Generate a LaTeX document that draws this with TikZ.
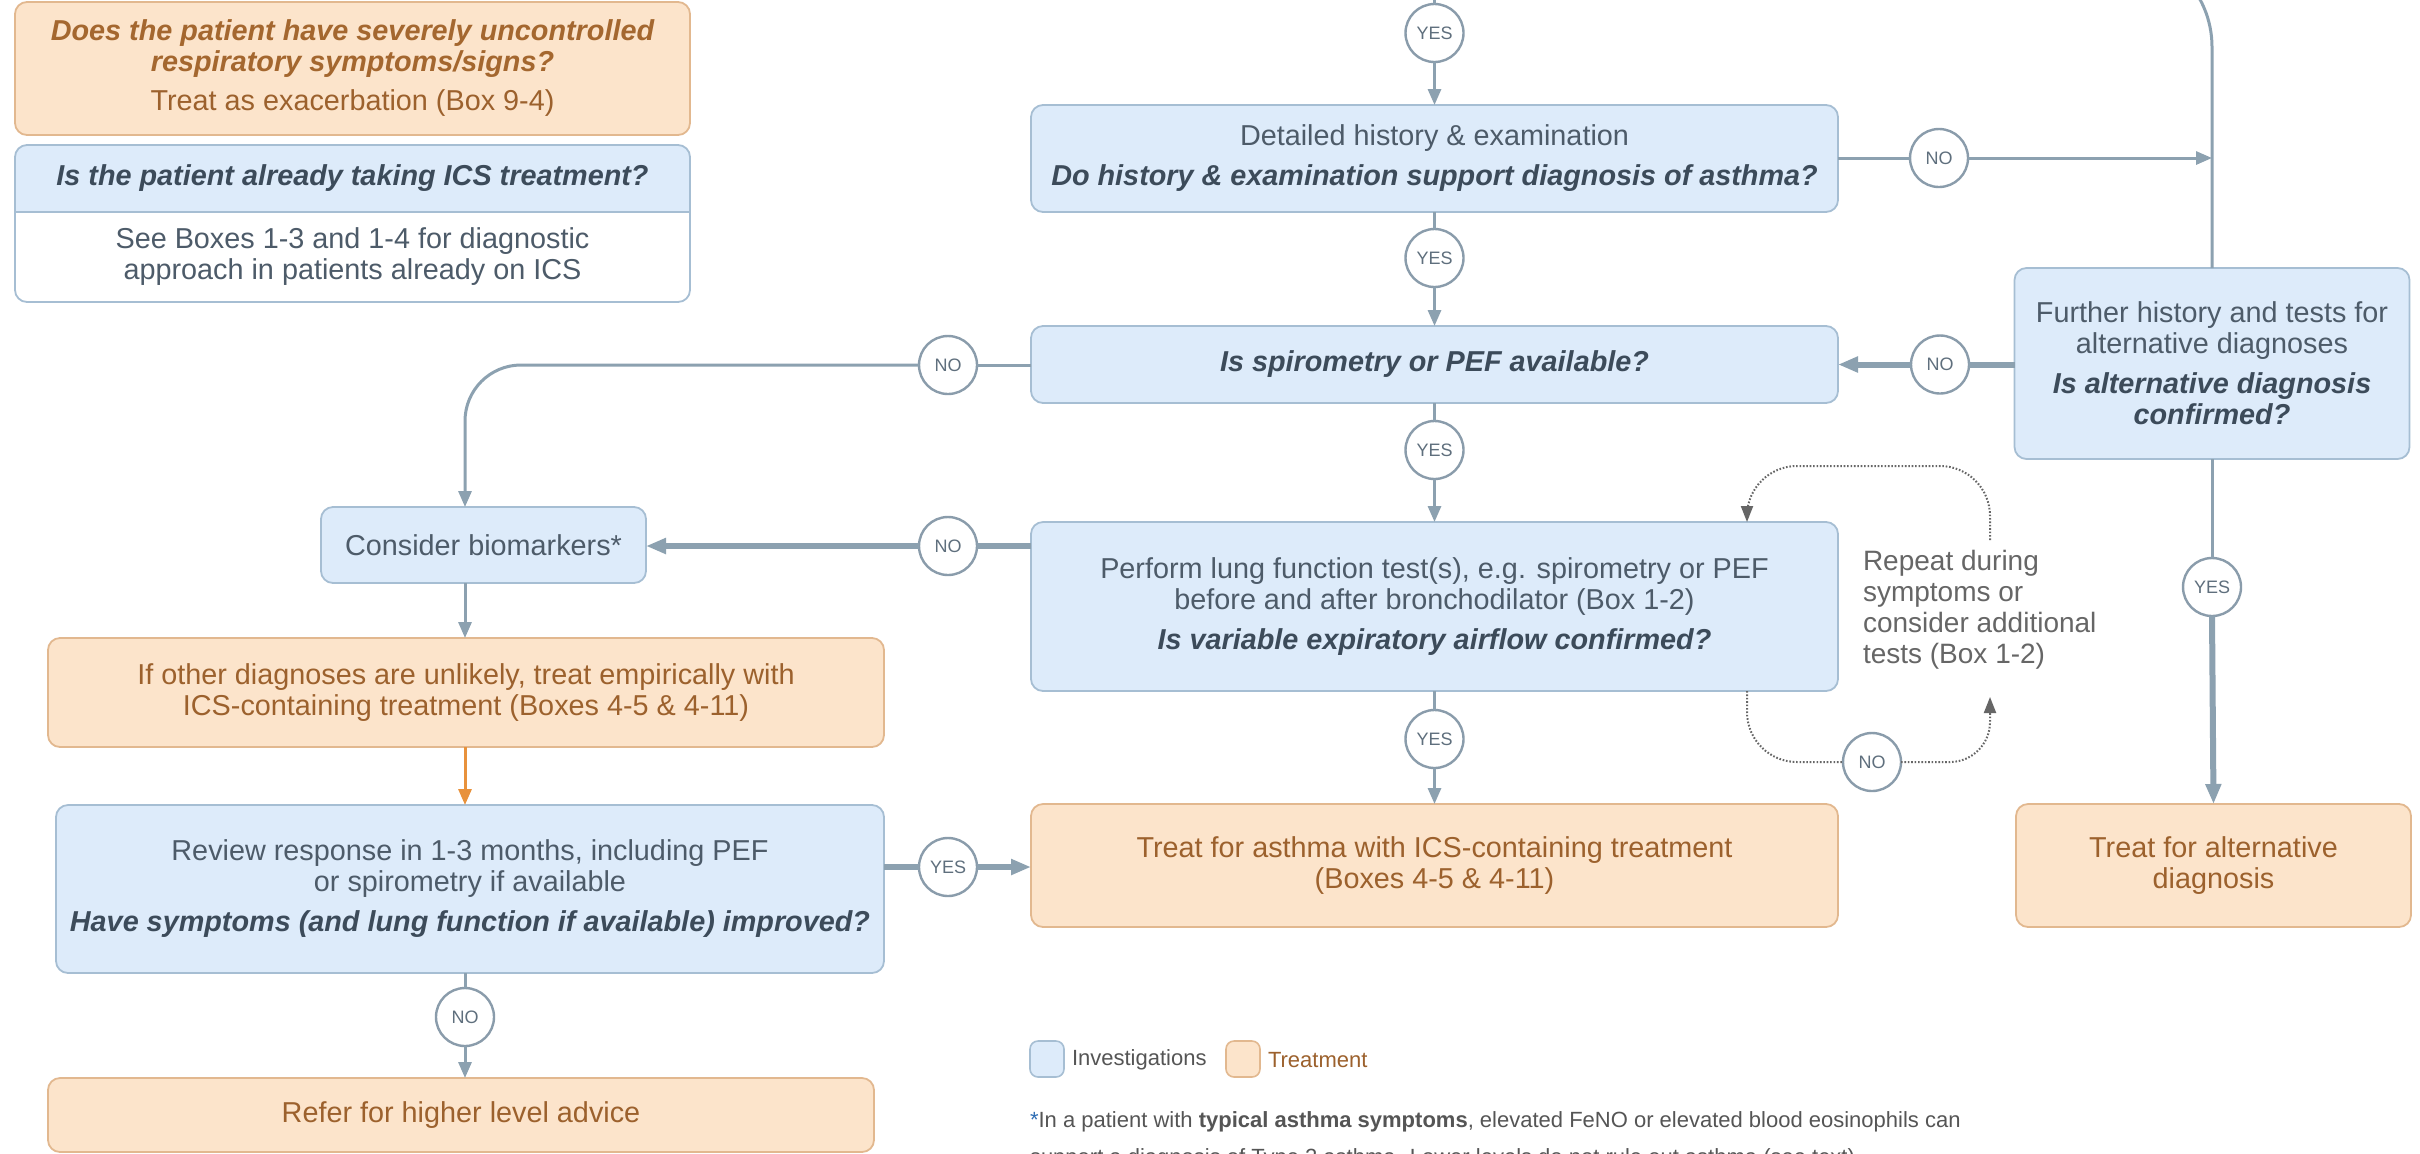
\documentclass[tikz,border=0pt]{standalone}
\usepackage{fontspec}
\setmainfont{Liberation Sans}
\usetikzlibrary{arrows.meta,calc}
\definecolor{invfill}{HTML}{DDEBFA}
\definecolor{invline}{HTML}{A6BED3}
\definecolor{trtfill}{HTML}{FCE4CB}
\definecolor{trtline}{HTML}{E2B88F}
\definecolor{invtext}{HTML}{4D5B69}
\definecolor{invq}{HTML}{3C4B5A}
\definecolor{trttext}{HTML}{9C612D}
\definecolor{trtq}{HTML}{A4672F}
\definecolor{conn}{HTML}{8CA1B0}
\definecolor{ansline}{HTML}{8A9CAB}
\definecolor{anstext}{HTML}{5F6F7D}
\definecolor{loopc}{HTML}{666666}
\definecolor{orarrow}{HTML}{E8923C}
\definecolor{notegray}{HTML}{555555}
\definecolor{starblue}{HTML}{2E6DB4}
\newcommand\qinv[1]{{\color{invq}\bfseries\itshape #1}}
\newcommand\qtrt[1]{{\color{trtq}\bfseries\itshape #1}}
\newcommand\boxfont{\fontsize{14.4}{15.5}\selectfont}
\begin{document}
\begin{tikzpicture}[x=0.5pt,y=-0.5pt,
  every node/.style={inner sep=0pt,outer sep=0pt},
  sz/.style 2 args={minimum width={#1*0.5pt},minimum height={#2*0.5pt}},
  boxbase/.style={rounded corners=6pt,line width=0.9pt,align=center,font=\boxfont},
  inv/.style={boxbase,draw=invline,fill=invfill,text=invtext},
  trt/.style={boxbase,draw=trtline,fill=trtfill,text=trttext},
  ans/.style={circle,draw=ansline,fill=white,line width=1.2pt,minimum size=29pt,font=\fontsize{9}{10}\selectfont,text=anstext},
  lnthin/.style={draw=conn,line width=1.5pt},
  lnthick/.style={draw=conn,line width=3pt},
  headthin/.style={-{Triangle[length=8pt,width=6.5pt]}},
  headthick/.style={-{Triangle[length=10pt,width=7.5pt]}},
  loopline/.style={draw=loopc,line width=1pt,dash pattern=on 0.8pt off 0.9pt},
  headloop/.style={-{Triangle[length=8pt,width=6pt]}},
]
\useasboundingbox (0,0) rectangle (2420,1153);
\fill[white] (0,0) rectangle (2420,1153);
\clip (0,0) rectangle (2420,1153);

% ---------- top-left notes ----------
\node[trt,sz={675}{133}] (exac) at (352.5,68.5)
  {\qtrt{Does the patient have severely uncontrolled}\\
   \qtrt{respiratory symptoms/signs?}\\[4pt]
   Treat as exacerbation (Box 9-4)};

\node[sz={675}{157},fill=white] (ics) at (352.5,223.5) {};
\coordinate (icsdiv) at (0,212);
\coordinate (icsmid) at (0,190);
\fill[invfill,rounded corners=6pt] (ics.north west) rectangle (ics.east |- icsdiv);
\fill[invfill] (ics.west |- icsmid) rectangle (ics.east |- icsdiv);
\draw[invline,line width=0.9pt] (ics.west |- icsdiv) -- (ics.east |- icsdiv);
\draw[invline,line width=0.9pt,rounded corners=6pt] (ics.north west) rectangle (ics.south east);
\node[font=\boxfont] (icsq) at (352.5,178)
  {\qinv{Is the patient already taking ICS treatment?}};
\node[align=center,font=\boxfont,text=invtext] (icsb) at (352.5,257)
  {See Boxes 1-3 and 1-4 for diagnostic\\approach in patients already on ICS};

% ---------- central column ----------
\node[inv,sz={807}{107}] (hist) at (1434.5,158.5)
  {Detailed history \& examination\\[4.5pt]
   \qinv{Do history \& examination support diagnosis of asthma?}};
\node[inv,sz={807}{77}] (spiro) at (1434.5,364.5)
  {\qinv{Is spirometry or PEF available?}};
\node[inv,sz={807}{169}] (lung) at (1434.5,606.5)
  {Perform lung function test(s), e.g. spirometry or PEF\\
   before and after bronchodilator (Box 1-2)\\[4.5pt]
   \qinv{Is variable expiratory airflow confirmed?}};
\node[trt,sz={807}{123}] (treatA) at (1434.5,865.5)
  {Treat for asthma with ICS-containing treatment\\(Boxes 4-5 \& 4-11)};

% ---------- right column ----------
\node[inv,sz={395}{191}] (further) at (2212,363.5)
  {Further history and tests for\\alternative diagnoses\\[4.5pt]
   \qinv{Is alternative diagnosis}\\\qinv{confirmed?}};
\node[trt,sz={395}{123}] (treatAlt) at (2213.5,865.5)
  {Treat for alternative\\diagnosis};

% ---------- left column ----------
\node[inv,sz={325}{76}] (bio) at (483.5,545) {Consider biomarkers*};
\node[trt,sz={836}{109}] (empir) at (466,692.5)
  {If other diagnoses are unlikely, treat empirically with\\
   ICS-containing treatment (Boxes 4-5 \& 4-11)};
\node[inv,sz={828}{168}] (review) at (470,889)
  {Review response in 1-3 months, including PEF\\
   or spirometry if available\\[4.5pt]
   \qinv{Have symptoms (and lung function if available) improved?}};
\node[trt,sz={826}{74}] (refer) at (461,1115) {Refer for higher level advice};

% ---------- answer circles ----------
\node[ans] (y1) at (1434.5,33) {YES};
\node[ans] (y2) at (1434.5,258) {YES};
\node[ans] (y3) at (1434.5,450) {YES};
\node[ans] (y4) at (1434.5,739) {YES};
\node[ans] (n1) at (1939,158) {NO};
\node[ans] (n2) at (1940,364.5) {NO};
\node[ans] (n3) at (948,365) {NO};
\node[ans] (n4) at (948,546) {NO};
\node[ans] (n5) at (1872,762) {NO};
\node[ans] (y5) at (948,867) {YES};
\node[ans] (n6) at (465,1017) {NO};
\node[ans] (y6) at (2212,587) {YES};

% ---------- connectors ----------
\coordinate (topin) at (1434.5,-20);
\draw[lnthin] (topin) -- (y1.north);
\draw[lnthin,headthin] (y1.south) -- (hist.north);
\draw[lnthin] (hist.south) -- (y2.north);
\draw[lnthin,headthin] (y2.south) -- (spiro.north);
\draw[lnthin] (spiro.south) -- (y3.north);
\draw[lnthin,headthin] (y3.south) -- (lung.north);
\draw[lnthin] (lung.south) -- (y4.north);
\draw[lnthin,headthin] (y4.south) -- (treatA.north);

% return line on the far right
\coordinate (vtop) at (2000,-53);
\draw[lnthin,rounded corners=50pt] (vtop) -- (vtop -| further.north) -- (further.north);
\draw[lnthin] (hist.east |- n1) -- (n1.west);
\draw[lnthin,headthin] (n1.east) -- (n1 -| further.north);

\draw[lnthick] (further.west |- n2) -- (n2.east);
\draw[lnthick,headthick] (n2.west) -- (spiro.east |- n2);
\draw[lnthin] (further.south) -- (y6.north);
\draw[lnthick,headthick] (y6.south) -- (treatAlt.north);

% left branches
\coordinate (lcorner) at (465,365);
\draw[lnthin] (spiro.west |- n3) -- (n3.east);
\draw[lnthin,headthin,rounded corners=28pt] (n3.west) -- (lcorner) -- (bio.north -| lcorner);
\draw[lnthick] (lung.west |- n4) -- (n4.east);
\draw[lnthick,headthick] (n4.west) -- (bio.east |- n4);
\draw[lnthin,headthin] (bio.south -| lcorner) -- (empir.north -| lcorner);
\draw[draw=orarrow,line width=1.5pt,-{Triangle[length=8pt,width=6.5pt]}]
  (empir.south -| lcorner) -- (review.north -| lcorner);
\draw[lnthick] (review.east |- y5) -- (y5.west);
\draw[lnthick,headthick] (y5.east) -- (treatA.west |- y5);
\draw[lnthin] (review.south -| n6) -- (n6.north);
\draw[lnthin,headthin] (n6.south) -- (refer.north -| n6);

% repeat loop (dotted)
\coordinate (lpx) at (1747,466);
\coordinate (rpx) at (1990,466);
\coordinate (rptop) at (1990,540);
\coordinate (lbot) at (1747,762);
\coordinate (rbot) at (1990,762);
\coordinate (rptip) at (1990,697);
\draw[loopline,headloop,rounded corners=25pt] (rptop) -- (rpx) -- (lpx) -- (lung.north -| lpx);
\draw[loopline,rounded corners=25pt] (lung.south -| lpx) -- (lbot) -- (n5.west);
\draw[loopline,headloop,rounded corners=20pt] (n5.east) -- (rbot) -- (rptip);
\node[anchor=north west,align=left,font=\fontsize{14}{15.5}\selectfont,text=loopc] (repeat) at (1863,550)
  {Repeat during\\symptoms or\\consider additional\\tests (Box 1-2)};

% ---------- legend and footnote ----------
\node[draw=invline,fill=invfill,line width=0.8pt,rounded corners=4pt,sz={34}{36}] (lginv) at (1047,1059) {};
\node[anchor=west,font=\fontsize{11}{13}\selectfont,text=notegray] (lginvt) at (1072,1060) {Investigations};
\node[draw=trtline,fill=trtfill,line width=0.8pt,rounded corners=4pt,sz={34}{36}] (lgtrt) at (1243,1059) {};
\node[anchor=west,font=\fontsize{11}{13}\selectfont,text=trttext] (lgtrtt) at (1268,1060) {Treatment};

\node[anchor=base west,font=\fontsize{11}{13}\selectfont,text=notegray] (fn1) at (1030,1127)
  {\textcolor{starblue}{*}In a patient with \textbf{typical asthma symptoms}, elevated FeNO or elevated blood eosinophils can};
\node[anchor=base west,font=\fontsize{11}{13}\selectfont,text=notegray] (fn2) at (1030,1164)
  {support a diagnosis of Type 2 asthma. Lower levels do not rule out asthma (see text).};
\end{tikzpicture}
\end{document}
